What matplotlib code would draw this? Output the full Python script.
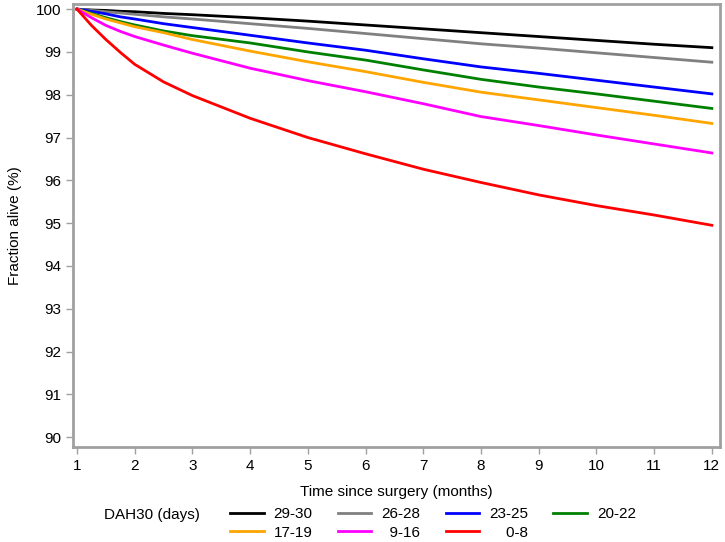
import matplotlib.pyplot as plt
import numpy as np

plt.rcParams['font.family'] = ['Liberation Sans', 'DejaVu Sans']

months = [1, 1.25, 1.5, 1.75, 2, 2.5, 3, 4, 5, 6, 7, 8, 9, 10, 11, 12]

s29_30 = [100, 99.98, 99.97, 99.95, 99.94, 99.9, 99.87, 99.8, 99.72, 99.63, 99.54, 99.45, 99.36, 99.27, 99.18, 99.1]
s26_28 = [100, 99.97, 99.94, 99.91, 99.88, 99.82, 99.77, 99.66, 99.55, 99.43, 99.31, 99.19, 99.09, 98.98, 98.87, 98.76]
s23_25 = [100, 99.95, 99.89, 99.82, 99.77, 99.66, 99.57, 99.39, 99.21, 99.04, 98.84, 98.65, 98.5, 98.34, 98.18, 98.02]
s20_22 = [100, 99.9, 99.8, 99.71, 99.63, 99.49, 99.38, 99.21, 99.0, 98.81, 98.58, 98.36, 98.18, 98.02, 97.85, 97.68]
s17_19 = [100, 99.88, 99.77, 99.68, 99.59, 99.45, 99.29, 99.02, 98.77, 98.54, 98.29, 98.06, 97.88, 97.7, 97.52, 97.33]
s9_16 = [100, 99.8, 99.62, 99.48, 99.36, 99.16, 98.97, 98.62, 98.33, 98.07, 97.79, 97.49, 97.28, 97.06, 96.85, 96.64]
s0_8 = [100, 99.62, 99.29, 98.99, 98.71, 98.3, 97.98, 97.45, 97.0, 96.62, 96.26, 95.95, 95.66, 95.41, 95.19, 94.95]

labels = ['29-30', '26-28', '23-25', '20-22', '17-19', '9-16', '0-8']
colors = ['black', 'gray', 'blue', 'green', 'orange', 'magenta', 'red']
series = [s29_30, s26_28, s23_25, s20_22, s17_19, s9_16, s0_8]

fig = plt.figure(figsize=(7.25, 5.42), dpi=100)
ax = fig.add_axes([0.1007, 0.1753, 0.8923, 0.8173])

handles = []
for ys, c, lab in zip(series, colors, labels):
    h, = ax.plot(months, ys, color=c, lw=2, label=lab)
    handles.append(h)

ax.set_xlim(0.93, 12.14)
ax.set_ylim(89.77, 100.12)
ax.set_xticks(range(1, 13))
ax.set_yticks(range(90, 101))
for sp in ax.spines.values():
    sp.set_color('#a0a0a0')
    sp.set_linewidth(2)
ax.tick_params(colors='#a0a0a0', labelcolor='black', labelsize=11, width=1, length=5)
ax.set_xlabel('Time since surgery (months)', fontsize=11, labelpad=9)
ax.set_ylabel('Fraction alive (%)', fontsize=11, labelpad=10)

# legend is filled column by column, so interleave the two rows
order = [0, 4, 1, 5, 2, 6, 3]
shown = ['29-30', '26-28', '23-25', '20-22', '17-19', '\u20079-16', '\u2007\u20070-8']
fig.legend([handles[i] for i in order], [shown[i] for i in order],
           ncol=4, loc='upper left', bbox_to_anchor=(0.309, 0.0757),
           frameon=False, fontsize=11, handlelength=2.2, columnspacing=1.65,
           labelspacing=0.3, handletextpad=0.65, borderaxespad=0)
fig.text(0.21, 0.0498, 'DAH30 (days)', fontsize=11, ha='center', va='center')

fig.savefig('out.png', dpi=100)
